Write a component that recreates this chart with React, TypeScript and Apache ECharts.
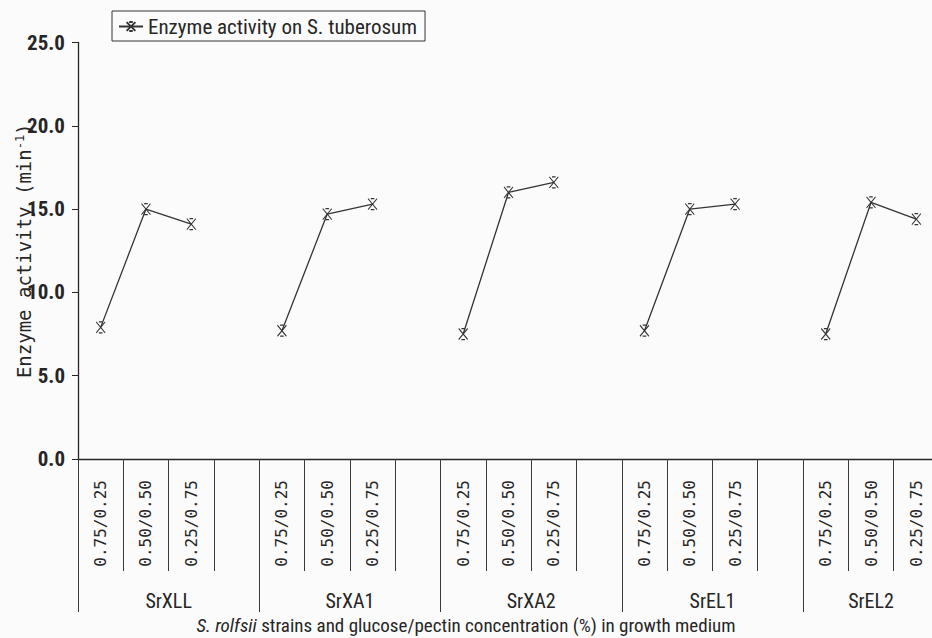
import React, { useEffect, useRef } from "react";
import * as echarts from "echarts";

// ---- data ----
const slotLabels = ["0.75/0.25", "0.50/0.50", "0.25/0.75"];
const groups = ["SrXLL", "SrXA1", "SrXA2", "SrEL1", "SrEL2"];
const groupSlots = [4, 4, 4, 4, 3];
const actSrXLL = [7.9, 15.0, 14.1];
const actSrXA1 = [7.7, 14.7, 15.3];
const actSrXA2 = [7.5, 16.0, 16.6];
const actSrEL1 = [7.7, 15.0, 15.3];
const actSrEL2 = [7.5, 15.4, 14.4];
const groupValues = [actSrXLL, actSrXA1, actSrXA2, actSrEL1, actSrEL2];
const yTicks = [0, 5, 10, 15, 20, 25];
const seriesName = "Enzyme activity on S. tuberosum";

const NARROW = "'Liberation Sans Narrow', 'Roboto Condensed', 'DejaVu Sans Condensed', Roboto, sans-serif";
const MONO = "'DejaVu Sans Mono', 'Liberation Mono', monospace";
const INK = "#262626";

export default function App() {
  const ref = useRef<HTMLDivElement>(null);
  useEffect(() => {
    if (!ref.current) return;
    const chart = echarts.init(ref.current, undefined, { renderer: "svg" });

    const categories: string[] = [];
    const values: (number | null)[] = [];
    const starts: number[] = [];
    const centers: number[] = [];
    let pos = 0;
    groups.forEach((g, gi) => {
      starts.push(pos);
      centers.push(pos + groupSlots[gi] / 2);
      for (let s = 0; s < groupSlots[gi]; s++) {
        categories.push(s < slotLabels.length ? slotLabels[s] : "");
        values.push(s < groupValues[gi].length ? groupValues[gi][s] : null);
      }
      pos += groupSlots[gi];
    });
    const total = pos;

    const marker = "path://M0,0L10,12M10,0L0,12M3,0L7,0M3,12L7,12";

    chart.setOption({
      animation: false,
      backgroundColor: "#fbfbfb",
      title: {
        text: "{i|S. rolfsii} strains and glucose/pectin concentration (%) in growth medium",
        left: "center",
        top: 616,
        padding: 0,
        textStyle: {
          fontFamily: NARROW,
          fontSize: 19,
          fontWeight: "normal",
          color: INK,
          rich: {
            i: { fontFamily: NARROW, fontSize: 19, fontStyle: "italic", color: INK },
          },
        },
      },
      legend: {
        left: 112,
        top: 11,
        padding: [5, 8, 4, 6],
        borderColor: "#333",
        borderWidth: 1,
        borderRadius: 0,
        itemWidth: 24,
        itemHeight: 11,
        itemGap: 4,
        textStyle: { fontFamily: NARROW, fontSize: 21, color: INK },
        data: [seriesName],
      },
      grid: {
        left: 78,
        top: 42.5,
        width: 861,
        height: 416.5,
        containLabel: false,
        outerBoundsMode: "none",
      },
      xAxis: [
        {
          type: "category",
          data: categories,
          boundaryGap: true,
          position: "bottom",
          axisLine: { show: true, lineStyle: { color: INK, width: 1.3 } },
          axisTick: {
            show: true,
            interval: 0,
            length: 112,
            lineStyle: { color: "#3a3a3a", width: 1 },
          },
          axisLabel: {
            interval: 0,
            rotate: 90,
            margin: 21,
            fontFamily: MONO,
            fontSize: 16,
            color: INK,
          },
          splitLine: { show: false },
        },
        {
          type: "value",
          min: 0,
          max: total,
          position: "bottom",
          axisLine: { show: false },
          axisTick: {
            show: true,
            customValues: starts,
            length: 153,
            lineStyle: { color: "#3a3a3a", width: 1 },
          },
          axisLabel: {
            show: true,
            customValues: centers,
            margin: 132,
            fontFamily: NARROW,
            fontSize: 20,
            color: INK,
            formatter: (v: number) => {
              const i = centers.findIndex((c) => Math.abs(c - v) < 1e-6);
              return i >= 0 ? groups[i] : "";
            },
          },
          splitLine: { show: false },
        },
      ],
      yAxis: {
        type: "value",
        min: yTicks[0],
        max: yTicks[yTicks.length - 1],
        interval: 5,
        name: "Enzyme activity (min{sup|-1})",
        nameLocation: "middle",
        nameGap: 45,
        nameRotate: 90,
        nameMoveOverlap: false,
        nameTextStyle: {
          fontFamily: MONO,
          fontSize: 19,
          color: INK,
          rich: {
            sup: { fontFamily: MONO, fontSize: 12, verticalAlign: "top", color: INK },
          },
        },
        axisLine: { show: true, lineStyle: { color: INK, width: 1.3 } },
        axisTick: { show: true, length: 6, lineStyle: { color: INK } },
        axisLabel: {
          margin: 13,
          fontFamily: NARROW,
          fontSize: 21,
          fontWeight: "bold",
          color: INK,
          formatter: (v: number) => v.toFixed(1),
        },
        splitLine: { show: false },
      },
      series: [
        {
          name: seriesName,
          type: "line",
          xAxisIndex: 0,
          yAxisIndex: 0,
          data: values,
          connectNulls: false,
          symbol: marker,
          symbolSize: [9, 11],
          lineStyle: { color: "#333", width: 1.3 },
          itemStyle: { color: "#333", borderColor: "#333", borderWidth: 1.1 },
        },
      ],
    });
    return () => chart.dispose();
  }, []);
  return (
    <div
      ref={ref}
      style={{ position: "absolute", left: 0, top: 0, width: 932, height: 638 }}
    />
  );
}
